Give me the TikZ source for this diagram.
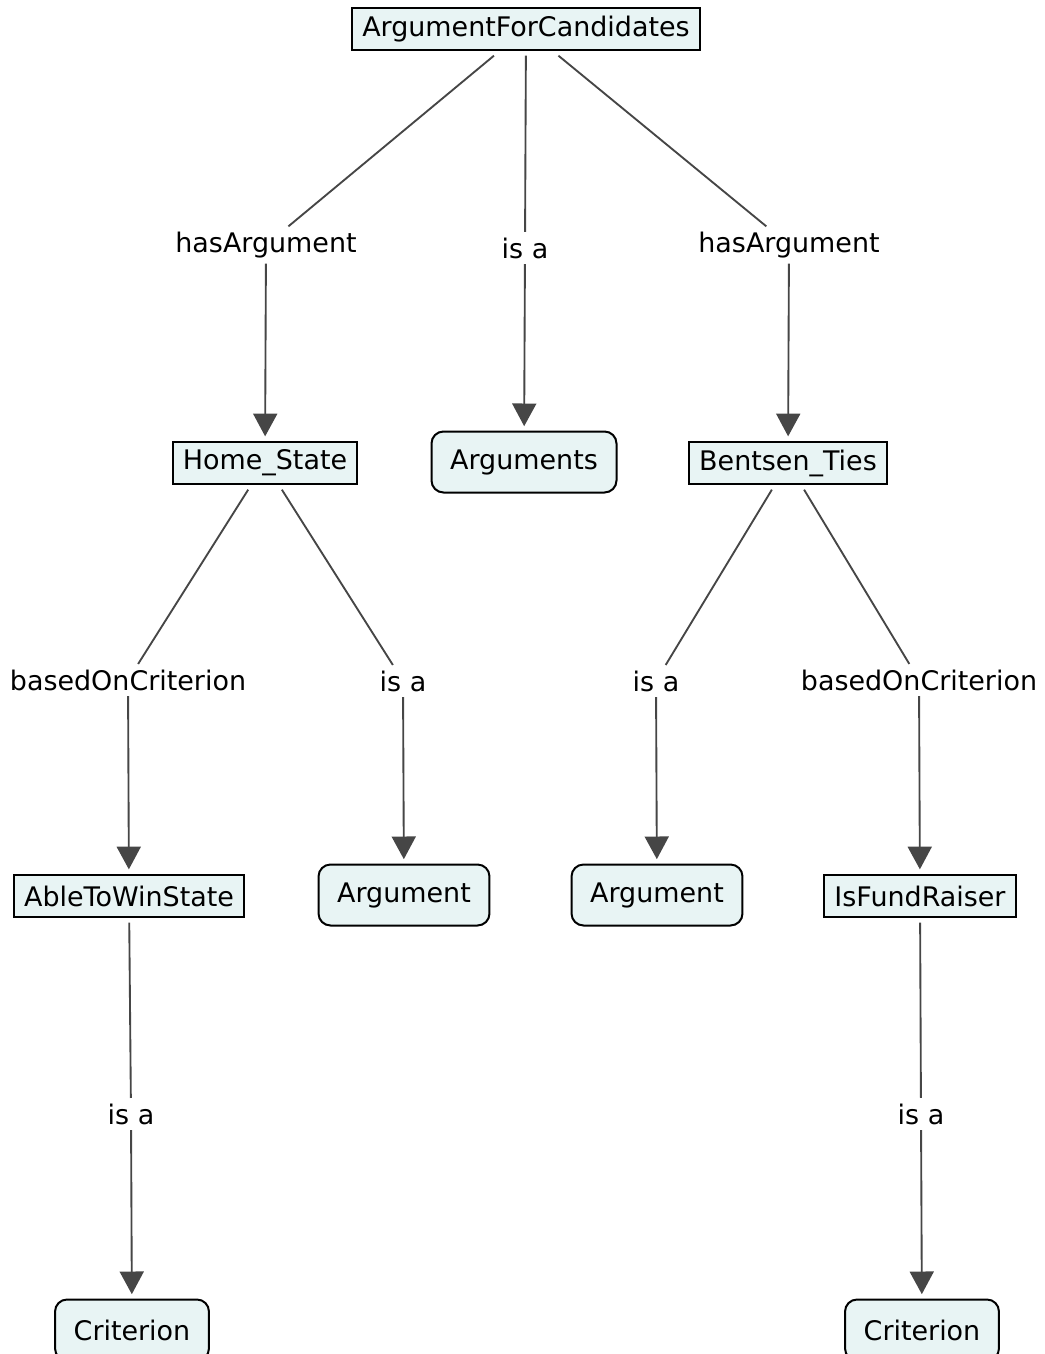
\documentclass[tikz,border=0pt]{standalone}
\usepackage{fontspec}
\setmainfont{DejaVu Sans}
\usetikzlibrary{arrows.meta}
\definecolor{cfill}{RGB}{232,244,244}
\definecolor{lcol}{RGB}{70,70,70}
\begin{document}
\begin{tikzpicture}[x=0.75pt,y=-0.75pt,
  every node/.style={font=\fontsize{20.2}{24}\selectfont},
  box/.style={draw=black,fill=cfill,line width=1.5pt,rectangle,inner xsep=7.5pt,inner ysep=0pt,minimum height=32pt,outer sep=4pt},
  rbox/.style={draw=black,fill=cfill,line width=1.5pt,rectangle,rounded corners=9pt,inner xsep=14pt,inner ysep=0pt,minimum height=45.75pt,outer sep=4pt},
  lbl/.style={inner sep=4pt},
  ln/.style={draw=lcol,line width=1.4pt},
  arr/.style={ln,-{Triangle[length=17pt,width=18pt]}}
]
\useasboundingbox (0,0) rectangle (1045,1354);
\node[box] (afc) at (526,29) {ArgumentForCandidates};
\node[lbl] (ha1) at (266,245) {hasArgument};
\node[lbl] (isa0) at (525,248) {is a};
\node[lbl] (ha2) at (789,245) {hasArgument};
\node[box] (hs) at (265,463) {Home\_State};
\node[rbox] (args) at (524,462) {Arguments};
\node[box] (bt) at (788,463) {Bentsen\_Ties};
\node[lbl] (boc1) at (128,680) {basedOnCriterion};
\node[lbl] (isa1) at (403,681) {is a};
\node[lbl] (isa2) at (656,681) {is a};
\node[lbl] (boc2) at (919,680) {basedOnCriterion};
\node[box] (atw) at (129,896) {AbleToWinState};
\node[rbox] (arg1) at (404,895) {Argument};
\node[rbox] (arg2) at (657,895) {Argument};
\node[box] (ifr) at (920,896) {IsFundRaiser};
\node[lbl] (isa3) at (131,1114) {is a};
\node[lbl] (isa4) at (921,1114) {is a};
\node[rbox] (cr1) at (132,1330) {Criterion};
\node[rbox] (cr2) at (922,1330) {Criterion};

\draw[ln] (afc) -- (ha1);
\draw[arr] (ha1) -- (hs);
\draw[ln] (afc) -- (isa0);
\draw[arr] (isa0) -- (args);
\draw[ln] (afc) -- (ha2);
\draw[arr] (ha2) -- (bt);
\draw[ln] (hs) -- (boc1);
\draw[arr] (boc1) -- (atw);
\draw[ln] (hs) -- (isa1);
\draw[arr] (isa1) -- (arg1);
\draw[ln] (bt) -- (isa2);
\draw[arr] (isa2) -- (arg2);
\draw[ln] (bt) -- (boc2);
\draw[arr] (boc2) -- (ifr);
\draw[ln] (atw) -- (isa3);
\draw[arr] (isa3) -- (cr1);
\draw[ln] (ifr) -- (isa4);
\draw[arr] (isa4) -- (cr2);
\end{tikzpicture}
\end{document}
